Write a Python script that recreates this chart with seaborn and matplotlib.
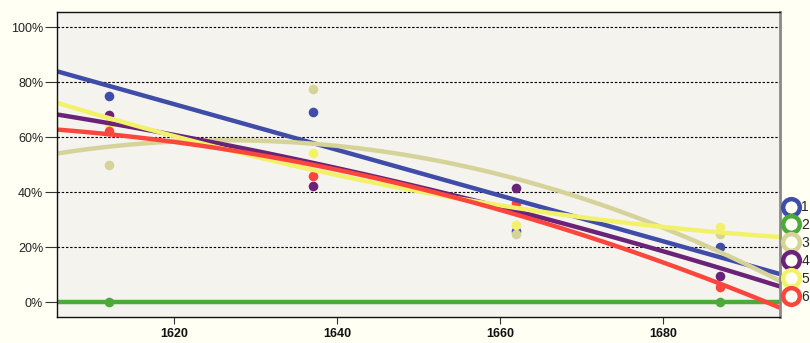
import numpy as np
import pandas as pd
import matplotlib
matplotlib.use("Agg")
import matplotlib.pyplot as plt
from matplotlib.lines import Line2D
from matplotlib import font_manager
import seaborn as sns

# Survey years and the share (%) recorded for each group
series_names = ["1", "2", "3", "4", "5", "6"]
years_main = [1612, 1637, 1662, 1687]
years_group2 = [1612, 1687]
values_1 = [75.0, 69.2, 26.0, 20.2]
values_2 = [0.0, 0.0]
values_3 = [50.0, 77.7, 25.0, 25.0]
values_4 = [68.0, 42.3, 41.7, 9.7]
values_5 = [65.0, 54.3, 28.3, 27.5]
values_6 = [62.5, 46.0, 36.0, 5.5]

colors = ["#3f4ca8", "#4caa3a", "#d6d39a", "#6b2378", "#f2f26a", "#fa463c"]

frames = []
for name, yrs, vals in zip(
    series_names,
    [years_main, years_group2, years_main, years_main, years_main, years_main],
    [values_1, values_2, values_3, values_4, values_5, values_6],
):
    frames.append(pd.DataFrame({"year": yrs, "share": vals, "group": name}))
df = pd.concat(frames, ignore_index=True)

sns.set_theme(style="white")
plt.rcParams["font.family"] = ["Liberation Sans", "DejaVu Sans"]


def liberation_file(bold):
    # pick the regular-width Liberation Sans face, not the narrow cut
    for f in font_manager.fontManager.ttflist:
        base = f.fname.split("/")[-1]
        if f.name == "Liberation Sans" and "Narrow" not in base:
            is_bold = "Bold" in base and "Italic" not in base
            is_reg = base.endswith("Regular.ttf")
            if (bold and is_bold) or (not bold and is_reg):
                return f.fname
    return None


bold_file = liberation_file(True)
reg_file = liberation_file(False)
fp_bold = (font_manager.FontProperties(fname=bold_file, size=9) if bold_file
           else font_manager.FontProperties(family="DejaVu Sans", weight="bold", size=9))
fp_reg = (font_manager.FontProperties(fname=reg_file, size=9) if reg_file
          else font_manager.FontProperties(family="DejaVu Sans", size=9))
fp_leg = (font_manager.FontProperties(fname=reg_file, size=10) if reg_file
          else font_manager.FontProperties(family="DejaVu Sans", size=10))

fig = plt.figure(figsize=(8.1, 3.43), dpi=100)
fig.patch.set_facecolor("#fffff4")
ax = fig.add_axes([0.0704, 0.0758, 0.8926, 0.889])
ax.set_facecolor("#f5f3ee")

# the fitted curves span the full x range, so fix the limits first
ax.set_xlim(1605.6, 1694.4)
ax.set_ylim(-5.3, 105.6)

# dashed reference lines behind the data
for yv in [0, 20, 40, 60, 80, 100]:
    ax.axhline(yv, color="black", lw=0.8, ls=(0, (2.2, 1.6)), zorder=0.5)

for name, col in zip(series_names, colors):
    sub = df[df["group"] == name]
    order = 2 if len(sub) > 2 else 1
    sns.regplot(
        data=sub, x="year", y="share", ax=ax, order=order, ci=None,
        truncate=False, color=col,
        scatter_kws={"s": 48, "alpha": 1, "linewidths": 0},
        line_kws={"lw": 3.2, "solid_capstyle": "butt"},
    )

ax.set_xlim(1605.6, 1694.4)
ax.set_ylim(-5.3, 105.6)
ax.set_xlabel("")
ax.set_ylabel("")

ax.set_xticks([1620, 1640, 1660, 1680])
ax.set_xticklabels(["1620", "1640", "1660", "1680"], fontproperties=fp_bold)
ax.set_yticks([0, 20, 40, 60, 80, 100])
ax.set_yticklabels([f"{v}%" for v in [0, 20, 40, 60, 80, 100]], fontproperties=fp_reg)
ax.tick_params(axis="y", length=9, width=0.8, color="#333333", pad=1, left=True,
               labelcolor="#222222")
ax.tick_params(axis="x", length=5, width=0.8, color="#333333", pad=3, bottom=True,
               labelcolor="#111111")

for side in ["left", "bottom", "top"]:
    ax.spines[side].set_color("#111111")
    ax.spines[side].set_linewidth(1.0)
ax.spines["right"].set_color("#8a8a86")
ax.spines["right"].set_linewidth(2.0)

handles = [
    Line2D([], [], ls="none", marker="o", markersize=12, markerfacecolor="none",
           markeredgecolor=c, markeredgewidth=3.2)
    for c in colors
]
leg = fig.legend(handles, series_names, loc="center left",
                 bbox_to_anchor=(0.968, 0.265), frameon=False, prop=fp_leg,
                 handlelength=1.0, handletextpad=0.25, labelspacing=0.28,
                 borderpad=0, borderaxespad=0)

fig.savefig("out.png", dpi=100, facecolor=fig.get_facecolor())
